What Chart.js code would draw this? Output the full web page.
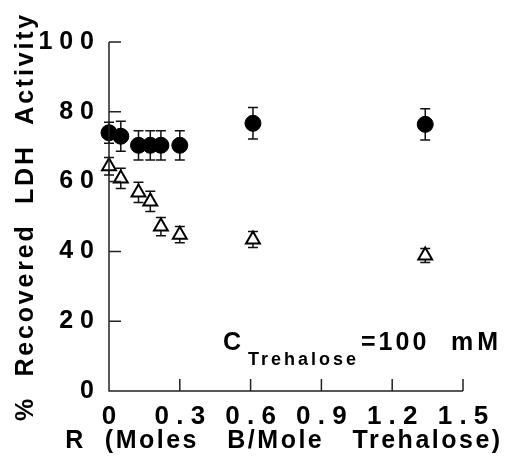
<!DOCTYPE html>
<html>
<head>
<meta charset="utf-8">
<script src="https://cdn.jsdelivr.net/npm/chart.js@4.4.1/dist/chart.umd.min.js"></script>
<style>
  html, body { margin: 0; padding: 0; background: #fff; }
  #wrap { width: 513px; height: 460px; }
</style>
</head>
<body>
<div id="wrap"><canvas id="chart" width="513" height="460"></canvas></div>
<script>
// values
const circleX = [0, 0.05, 0.125, 0.175, 0.22, 0.3, 0.61, 1.34];
const circleY = [74, 73, 70.4, 70.4, 70.4, 70.4, 76.7, 76.4];
const circleErr = [3, 4.3, 4.2, 4.2, 4.2, 4.2, 4.5, 4.5];

const triX = [0, 0.05, 0.125, 0.175, 0.22, 0.3, 0.61, 1.34];
const triY = [64.4, 60.9, 56.9, 54.3, 47.1, 44.8, 43.4, 38.8];
const triErr = [2.5, 2.9, 2.9, 2.9, 2.6, 2.3, 2.3, 2];

const xTicks = [0, 0.3, 0.6, 0.9, 1.2, 1.5];
const yTicks = [0, 20, 40, 60, 80, 100];

const xTitle = 'R  (Moles   B/Mole   Trehalose)';
const yTitle = '%  Recovered  LDH  Activity';

const FONT = '"Liberation Sans", Arial, sans-serif';

function toPoints(xs, ys) {
    return xs.map((x, i) => ({ x: x, y: ys[i] }));
}

// spaced-out labels like the original typesetting
function spaced(s) {
    return String(s).split('').join(' ');
}

const errorBars = {
    id: 'errorBars',
    beforeDatasetsDraw(chart) {
        const ctx = chart.ctx;
        const xs = chart.scales.x, ys = chart.scales.y;
        const sets = [[circleX, circleY, circleErr], [triX, triY, triErr]];
        ctx.save();
        ctx.strokeStyle = '#111';
        ctx.lineWidth = 1.5;
        sets.forEach(([X, Y, E]) => {
            X.forEach((x, i) => {
                const px = xs.getPixelForValue(x);
                const top = ys.getPixelForValue(Y[i] + E[i]);
                const bot = ys.getPixelForValue(Y[i] - E[i]);
                ctx.beginPath();
                ctx.moveTo(px, top); ctx.lineTo(px, bot);
                ctx.moveTo(px - 5, top); ctx.lineTo(px + 5, top);
                ctx.moveTo(px - 5, bot); ctx.lineTo(px + 5, bot);
                ctx.stroke();
            });
        });
        ctx.restore();
    }
};

const axesAndText = {
    id: 'axesAndText',
    afterDraw(chart) {
        const ctx = chart.ctx;
        const xs = chart.scales.x, ys = chart.scales.y;
        const a = chart.chartArea;
        ctx.save();
        ctx.strokeStyle = '#222';
        ctx.lineWidth = 1.5;
        ctx.beginPath();
        ctx.moveTo(a.left, a.top); ctx.lineTo(a.left, a.bottom); ctx.lineTo(a.right, a.bottom);
        // inward ticks
        yTicks.forEach(v => {
            const py = ys.getPixelForValue(v);
            ctx.moveTo(a.left, py); ctx.lineTo(a.left + 12, py);
        });
        xTicks.forEach(v => {
            const px = xs.getPixelForValue(v);
            ctx.moveTo(px, a.bottom); ctx.lineTo(px, a.bottom - 12);
        });
        ctx.stroke();

        ctx.fillStyle = '#000';
        ctx.textBaseline = 'alphabetic';

        // axis titles, letter-spaced
        ctx.font = 'bold 25px ' + FONT;
        ctx.letterSpacing = '2.5px';
        ctx.textAlign = 'center';
        ctx.fillText(xTitle, (a.left + a.right) / 2 - 2, 448);
        ctx.save();
        ctx.translate(33, (a.top + a.bottom) / 2);
        ctx.rotate(-Math.PI / 2);
        ctx.letterSpacing = '2.8px';
        ctx.fillText(yTitle, 0, 0);
        ctx.restore();

        // concentration note
        ctx.textAlign = 'left';
        ctx.font = 'bold 25px ' + FONT;
        ctx.letterSpacing = '0px';
        ctx.fillText('C', 223, 350);
        ctx.font = 'bold 18px ' + FONT;
        ctx.letterSpacing = '3px';
        ctx.fillText('Trehalose', 248, 365);
        ctx.font = 'bold 25px ' + FONT;
        ctx.letterSpacing = '3px';
        ctx.fillText('=100', 361, 350);
        ctx.letterSpacing = '4px';
        ctx.fillText('mM', 451, 350);
        ctx.restore();
    }
};

new Chart(document.getElementById('chart'), {
    type: 'scatter',
    data: {
        datasets: [{
            label: 'circles',
            data: toPoints(circleX, circleY),
            pointStyle: 'circle',
            pointRadius: 8,
            backgroundColor: '#000',
            borderColor: '#000',
            borderWidth: 1,
            clip: false
        }, {
            label: 'triangles',
            data: toPoints(triX, triY),
            pointStyle: 'triangle',
            pointRadius: 8,
            backgroundColor: '#fff',
            borderColor: '#000',
            borderWidth: 2,
            clip: false
        }]
    },
    options: {
        responsive: false,
        animation: false,
        events: [],
        layout: { padding: { top: 42, right: 50, left: 0, bottom: 0 } },
        plugins: {
            legend: { display: false },
            tooltip: { enabled: false }
        },
        scales: {
            x: {
                type: 'linear',
                min: 0,
                max: 1.5,
                afterBuildTicks: s => { s.ticks = xTicks.map(v => ({ value: v })); },
                afterFit: s => { s.height = 69; },
                grid: { display: false },
                border: { display: false },
                ticks: {
                    color: '#000',
                    padding: 2,
                    maxRotation: 0,
                    font: { family: FONT, size: 26, weight: 'bold' },
                    callback: v => spaced(v === 0 ? '0' : v.toFixed(1))
                }
            },
            y: {
                min: 0,
                max: 100,
                afterBuildTicks: s => { s.ticks = yTicks.map(v => ({ value: v })); },
                afterFit: s => { s.width = 109; },
                grid: { display: false },
                border: { display: false },
                ticks: {
                    color: '#000',
                    padding: 7,
                    font: { family: FONT, size: 25, weight: 'bold' },
                    callback: v => spaced(v)
                }
            }
        }
    },
    plugins: [errorBars, axesAndText]
});
</script>
</body>
</html>
